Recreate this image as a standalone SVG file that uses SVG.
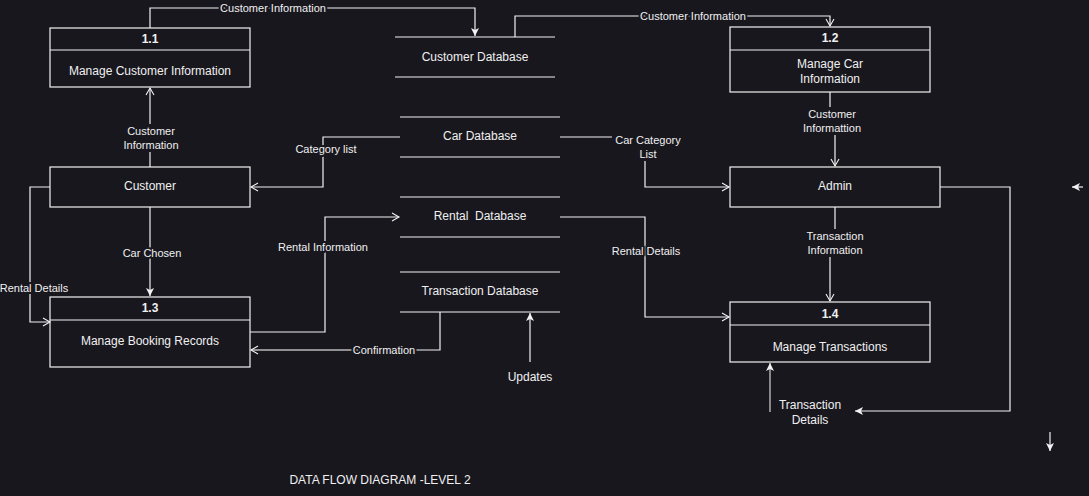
<svg xmlns="http://www.w3.org/2000/svg" width="1089" height="496" viewBox="0 0 1089 496">
<style>
.bg{fill:#18171e}
.box{fill:none;stroke:#f2f2f2;stroke-width:1.2}
.ln{fill:none;stroke:#f2f2f2;stroke-width:1.2}
.gl{fill:none;stroke:#b8b8b8;stroke-width:1.4}
text{font-family:"Liberation Sans",Arial,sans-serif;fill:#f0f0f0;text-anchor:middle;dominant-baseline:central}
.t{font-size:12px}
.b{font-size:12px;font-weight:bold}
.lb{font-size:11px;paint-order:stroke;stroke:#18171e;stroke-width:4px;stroke-linejoin:round}
</style>
<defs>
<marker id="f" markerUnits="userSpaceOnUse" markerWidth="10" markerHeight="10" refX="8" refY="4" orient="auto" overflow="visible">
<path d="M0,0 L8,4 L0,8 L2,4 z" fill="#f2f2f2"/>
</marker>
<marker id="o" markerUnits="userSpaceOnUse" markerWidth="10" markerHeight="10" refX="7" refY="4" orient="auto" overflow="visible">
<path d="M0,0 L7,4 L0,8" fill="none" stroke="#f2f2f2" stroke-width="1.1"/>
</marker>
</defs>
<rect class="bg" x="0" y="0" width="1089" height="496"/>

<g id="connectors">
<path class="ln" d="M150,28 V8 H475 V36" marker-end="url(#f)"/>
<path class="ln" d="M515,37 V16 H830 V26" marker-end="url(#o)"/>
<path class="ln" d="M150,167 V88" marker-end="url(#o)"/>
<path class="ln" d="M400,137 H323 V187 H251" marker-end="url(#o)"/>
<path class="ln" d="M560,137 H645 V187 H729" marker-end="url(#o)"/>
<path class="ln" d="M830,92 V121 H835 V166" marker-end="url(#o)"/>
<path class="ln" d="M940,187 H1010 V411 H855" marker-end="url(#f)"/>
<path class="gl" d="M770,412 V363" marker-end="url(#f)"/>
<path class="ln" d="M835,207 V243 H830 V301" marker-end="url(#o)"/>
<path class="ln" d="M560,217 H645 V317 H729" marker-end="url(#o)"/>
<path class="ln" d="M50,187 H30 V322 H50" marker-end="url(#o)"/>
<path class="ln" d="M150,207 V296" marker-end="url(#f)"/>
<path class="ln" d="M250,332 H325 V217 H399" marker-end="url(#o)"/>
<path class="ln" d="M440,312 V350 H384"/>
<path class="gl" d="M384,350 H251" marker-end="url(#o)"/>
<path class="ln" d="M530,362 V313" marker-end="url(#f)"/>
<path class="ln" d="M1083,187 H1072" marker-end="url(#f)"/>
<path class="ln" d="M1050,432 V451" marker-end="url(#f)"/>
<rect class="bg" x="124" y="124" width="54" height="28"/>
<rect class="bg" x="612" y="133" width="72" height="28"/>
<rect class="bg" x="800" y="107" width="64" height="28"/>
<rect class="bg" x="803" y="229" width="64" height="28"/>
<text class="lb" x="273" y="8">Customer Information</text>
<text class="lb" x="693" y="16">Customer Information</text>
<text class="lb" x="151" y="131">Customer</text>
<text class="lb" x="151" y="145">Information</text>
<text class="lb" x="326" y="149">Category list</text>
<text class="lb" x="648" y="140">Car Category</text>
<text class="lb" x="648" y="154">List</text>
<text class="lb" x="832" y="114">Customer</text>
<text class="lb" x="832" y="128">Informattion</text>
<text class="lb" x="835" y="236">Transaction</text>
<text class="lb" x="835" y="250">Information</text>
<text class="lb" x="646" y="251">Rental Details</text>
<text class="lb" x="34" y="288">Rental Details</text>
<text class="lb" x="152" y="253">Car Chosen</text>
<text class="lb" x="323" y="247">Rental Information</text>
<text class="lb" x="384" y="350">Confirmation</text>
</g>

<g id="n11">
<rect class="box" x="50" y="28" width="200" height="59"/>
<line class="box" x1="50" y1="50" x2="250" y2="50"/>
<text class="b" x="150" y="39">1.1</text>
<text class="t" x="150" y="71">Manage Customer Information</text>
</g>
<g id="customer">
<rect class="box" x="50" y="167" width="200" height="40"/>
<text class="t" x="150" y="186">Customer</text>
</g>
<g id="n13">
<rect class="box" x="50" y="297" width="200" height="70"/>
<line class="box" x1="50" y1="320" x2="250" y2="320"/>
<text class="b" x="150" y="308">1.3</text>
<text class="t" x="150" y="341">Manage Booking Records</text>
</g>
<g id="n12">
<rect class="box" x="730" y="27" width="200" height="65"/>
<line class="box" x1="730" y1="50" x2="930" y2="50"/>
<text class="b" x="830" y="38">1.2</text>
<text class="t" x="830" y="64">Manage Car</text>
<text class="t" x="830" y="79">Information</text>
</g>
<g id="admin">
<rect class="box" x="730" y="167" width="210" height="40"/>
<text class="t" x="835" y="186">Admin</text>
</g>
<g id="n14">
<rect class="box" x="730" y="302" width="200" height="60"/>
<line class="box" x1="730" y1="325" x2="930" y2="325"/>
<text class="b" x="830" y="314">1.4</text>
<text class="t" x="830" y="347">Manage Transactions</text>
</g>
<g id="customerdb">
<line class="box" x1="395" y1="37" x2="555" y2="37"/>
<line class="box" x1="395" y1="77" x2="555" y2="77"/>
<text class="t" x="475" y="57">Customer Database</text>
</g>
<g id="cardb">
<line class="box" x1="400" y1="117" x2="560" y2="117"/>
<line class="box" x1="400" y1="157" x2="560" y2="157"/>
<text class="t" x="480" y="136">Car Database</text>
</g>
<g id="rentaldb">
<line class="box" x1="400" y1="197" x2="560" y2="197"/>
<line class="box" x1="400" y1="237" x2="560" y2="237"/>
<text class="t" x="480" y="216" xml:space="preserve">Rental  Database</text>
</g>
<g id="transactiondb">
<line class="box" x1="400" y1="272" x2="560" y2="272"/>
<line class="box" x1="400" y1="312" x2="560" y2="312"/>
<text class="t" x="480" y="291">Transaction Database</text>
</g>
<g id="updates">
<text class="t" x="530" y="377">Updates</text>
</g>
<g id="transactiondetails">
<text class="t" x="810" y="405">Transaction</text>
<text class="t" x="810" y="420">Details</text>
</g>
<g id="title">
<text class="t" x="380" y="480">DATA FLOW DIAGRAM -LEVEL 2</text>
</g>
</svg>
